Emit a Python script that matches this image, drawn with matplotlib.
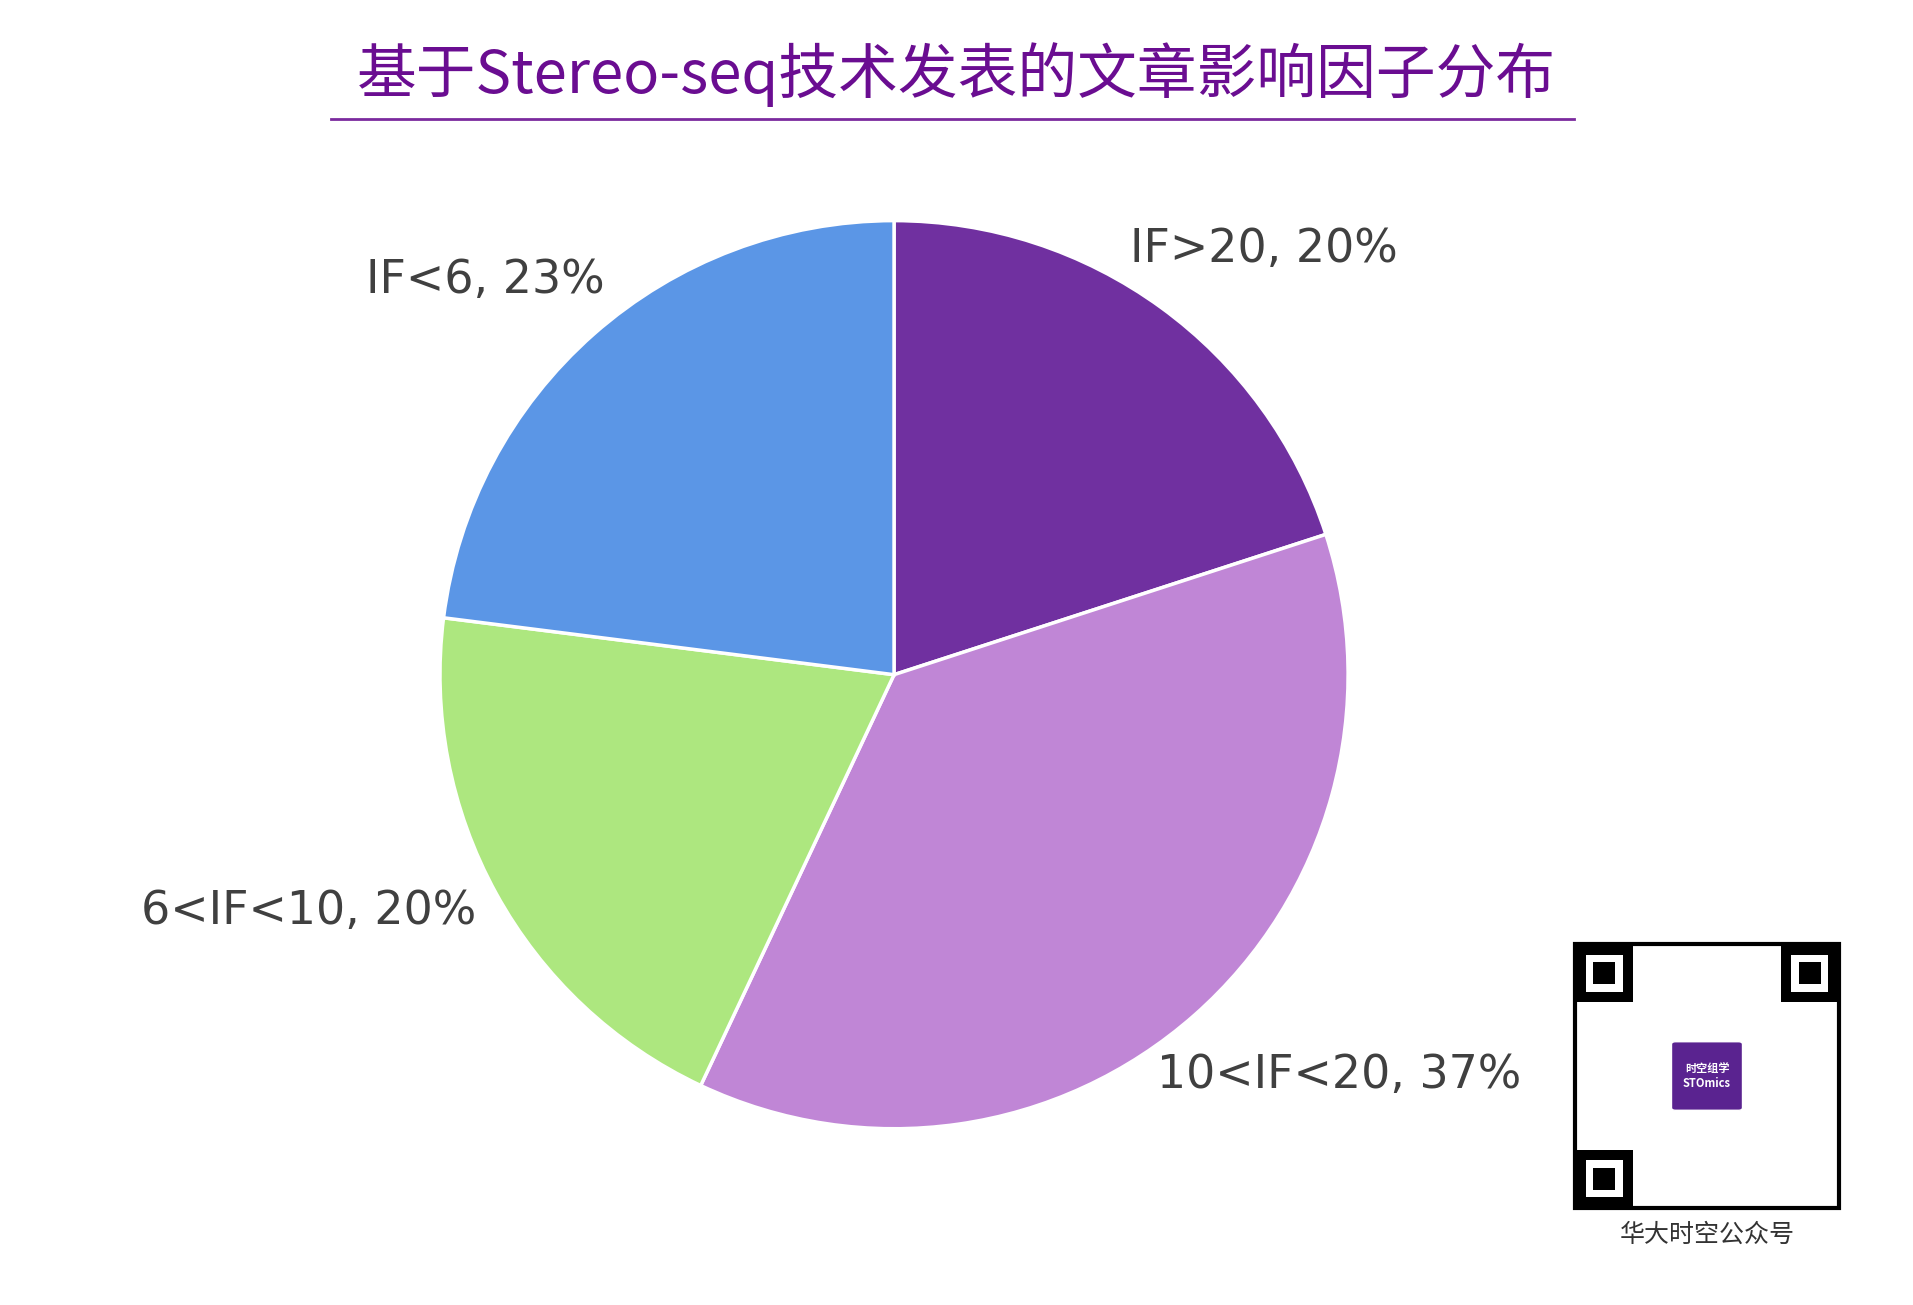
import matplotlib
matplotlib.use("Agg")
import numpy as np
import matplotlib.pyplot as plt
from matplotlib.patches import Rectangle, FancyBboxPatch
from matplotlib.lines import Line2D

plt.rcParams['font.family'] = ['Noto Sans CJK SC', 'DejaVu Sans']

labels = ["IF>20, 20%", "10<IF<20, 37%", "6<IF<10, 20%", "IF<6, 23%"]
values = [20, 37, 20, 23]
colors = ["#7030A0", "#C086D6", "#ADE77F", "#5B96E6"]
title = "基于Stereo-seq技术发表的文章影响因子分布"
label_dist = [1.24, 1.32, 1.39, 1.25]
label_rot = [-5, 6.6, -6.8, 4.6]

fig = plt.figure(figsize=(19.13, 13.05), dpi=100)
ax = fig.add_axes([0.230, 0.135, 0.4747, 0.696])
wedges, texts = ax.pie(values, labels=labels, colors=colors, startangle=90,
                       counterclock=False, labeldistance=1.0,
                       wedgeprops=dict(edgecolor="white", linewidth=2.5),
                       textprops=dict(fontsize=33, color="#404040", family="DejaVu Sans"))
for t, wdg, d, r in zip(texts, wedges, label_dist, label_rot):
    ang = np.deg2rad((wdg.theta1 + wdg.theta2) / 2 + r)
    t.set_position((d * np.cos(ang), d * np.sin(ang)))
    t.set_ha("center")
    t.set_va("center")
ax.set_xlim(-1, 1); ax.set_ylim(-1, 1)
ax.set_aspect("equal")

fig.text(0.5, 0.943, title, ha="center", va="center", fontsize=43,
         color="#6A0D91", fontweight="medium")
fig.add_artist(Line2D([0.173, 0.823], [0.909, 0.909], color="#7B2A9E", lw=2))

# QR placeholder
qx, qy, qs = 1575/1913, 1-1208/1305, 264
w, h = qs/1913, qs/1305
fig.add_artist(Rectangle((qx, qy), w, h, facecolor="white", edgecolor="black", lw=3))
for fx, fy in [(0, 0.78), (0.78, 0.78), (0, 0)]:
    fig.add_artist(Rectangle((qx+fx*w, qy+fy*h), 0.22*w, 0.22*h, facecolor="black"))
    fig.add_artist(Rectangle((qx+(fx+0.04)*w, qy+(fy+0.04)*h), 0.14*w, 0.14*h, facecolor="white"))
    fig.add_artist(Rectangle((qx+(fx+0.07)*w, qy+(fy+0.07)*h), 0.08*w, 0.08*h, facecolor="black"))
fig.add_artist(FancyBboxPatch((qx+0.38*w, qy+0.38*h), 0.24*w, 0.24*h,
                              boxstyle="round,pad=0.002", facecolor="#5A2390", edgecolor="white"))
fig.text(qx+0.5*w, qy+0.5*h, "时空组学\nSTOmics", ha="center", va="center",
         fontsize=8, color="white", fontweight="bold")
fig.text(qx+0.5*w, 1-1235/1305, "华大时空公众号", ha="center", va="center",
         fontsize=18, color="#333333")

fig.savefig("out.png", dpi=100, facecolor="white")
